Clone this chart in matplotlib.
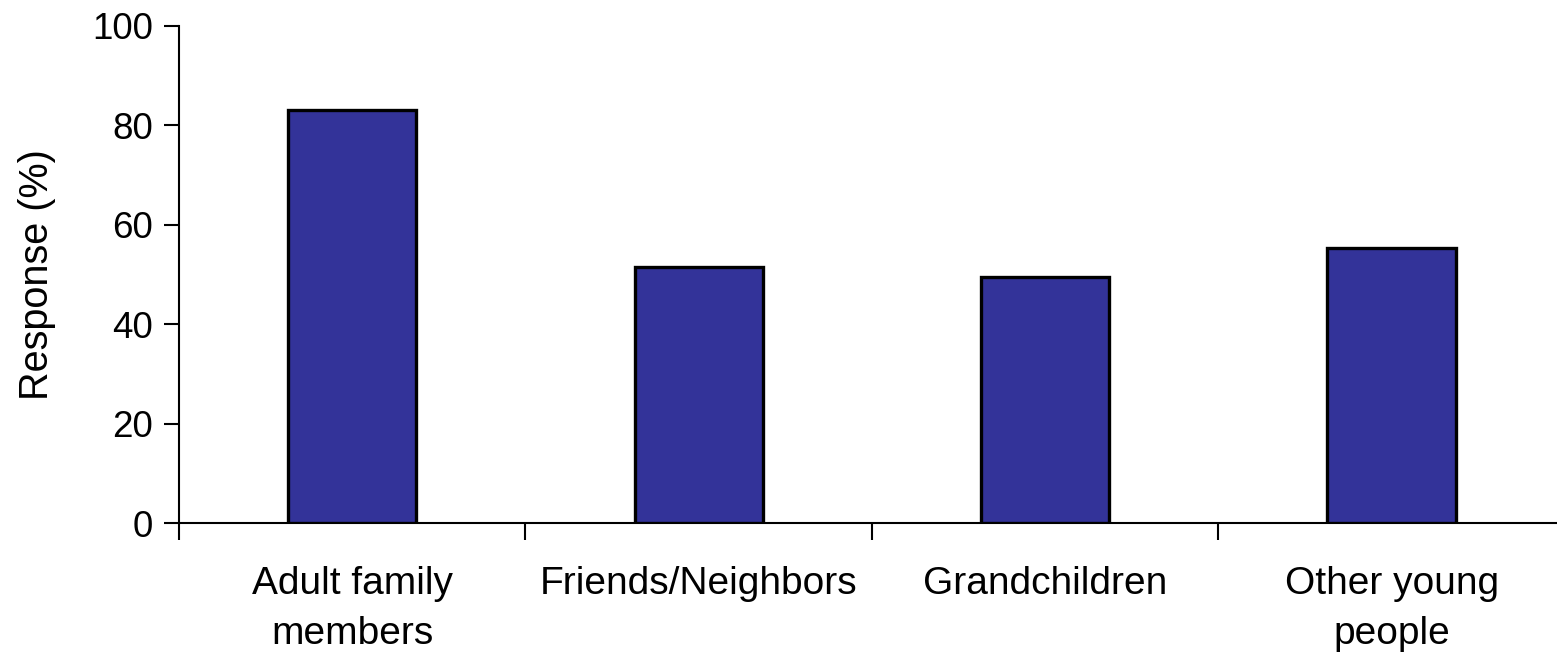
import numpy as np
import matplotlib
matplotlib.use("Agg")
import matplotlib.pyplot as plt

categories = ["Adult family\nmembers", "Friends/Neighbors", "Grandchildren", "Other young\npeople"]
response = [83, 51.6, 49.4, 55.4]
yticks = [0, 20, 40, 60, 80, 100]

plt.rcParams['font.family'] = ['Liberation Sans', 'DejaVu Sans']

fig = plt.figure(figsize=(15.57, 6.59), dpi=100)
ax = fig.add_axes([0.115, 0.206, 0.89, 0.755])

x = np.arange(len(categories))
ax.bar(x, response, width=0.37, color='#333399', edgecolor='black', linewidth=2.4, zorder=3)

ax.set_xlim(-0.5, len(categories) - 0.5)
ax.set_ylim(0, 100)
ax.set_yticks(yticks)
ax.set_yticklabels([str(v) for v in yticks], fontsize=26.5)

# category ticks sit between bars, labels centred under bars
ax.set_xticks(np.arange(len(categories) + 1) - 0.5)
ax.set_xticklabels([])
ax.set_xticks(x, minor=True)
ax.set_xticklabels(categories, minor=True, fontsize=28, linespacing=1.5)
ax.tick_params(axis='x', which='minor', length=0, pad=31)
ax.tick_params(axis='x', which='major', length=12, width=1.5, direction='out')
ax.tick_params(axis='y', length=11, width=1.5, direction='out', pad=8)

for s in ['top', 'right']:
    ax.spines[s].set_visible(False)
for s in ['left', 'bottom']:
    ax.spines[s].set_linewidth(1.5)

ax.set_ylabel("Response (%)", fontsize=28.5, labelpad=26)

fig.savefig("out.png", dpi=100)
